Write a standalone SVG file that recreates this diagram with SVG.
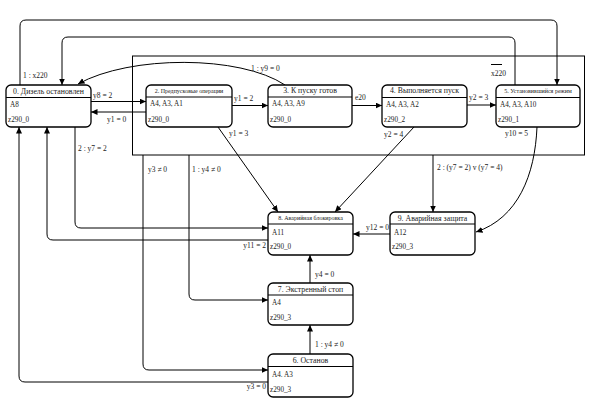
<svg xmlns="http://www.w3.org/2000/svg" width="595" height="403" viewBox="0 0 595 403" font-family="'Liberation Serif', 'Times New Roman', serif">
<defs>
<marker id="ah" markerUnits="userSpaceOnUse" markerWidth="7" markerHeight="7" refX="6.5" refY="3" orient="auto">
<path d="M0,0 L6.5,3 L0,6 z" fill="#000"/>
</marker>
<style>
.box{fill:#fff;stroke:#000;stroke-width:1.3}
.sep{stroke:#000;stroke-width:1.2}
.ln{fill:none;stroke:#000;stroke-width:1}
.ar{fill:none;stroke:#000;stroke-width:1;marker-end:url(#ah)}
text{font-family:'Liberation Serif','Times New Roman',serif;fill:#222}
.t{font-size:7.8px;text-anchor:middle}
.ts{font-size:6px;text-anchor:middle}
.c{font-size:7.2px}
.l{font-size:7.5px}
.le{font-size:7.5px;text-anchor:end}
</style>
</defs>
<rect x="0" y="0" width="595" height="403" fill="#fff"/>
<rect class="ln" x="132.5" y="56" width="452" height="99"/>
<g id="connectors">
<path class="ar" d="M91,101.5 H146"/>
<text class="l" x="93" y="98">y8 = 2</text>
<path class="ar" d="M146,112 H91"/>
<text class="l" x="107" y="122">y1 = 0</text>
<path class="ar" d="M232,105.5 H268"/>
<text class="l" x="234" y="101">y1 = 2</text>
<path class="ar" d="M352,105.5 H382"/>
<text class="l" x="355" y="100">e20</text>
<path class="ar" d="M467,105 H496"/>
<text class="l" x="469" y="100">y2 = 3</text>
<path class="ar" d="M218,127 L278,212"/>
<text class="l" x="229" y="136">y1 = 3</text>
<path class="ar" d="M414,127 L335,212"/>
<text class="l" x="384" y="137">y2 = 4</text>
<path class="ar" d="M537,127 C535,175 518,218 476,232"/>
<text class="l" x="505" y="136">y10 = 5</text>
<path class="ar" d="M433,155 V212"/>
<text class="l" x="437" y="170">2 : (y7 = 2) v (y7 = 4)</text>
<path class="ar" d="M390,234 H353"/>
<text class="le" x="389" y="230">y12 = 0</text>
<path class="ar" d="M268,240 H53 Q47,240 47,234 V127"/>
<text class="le" x="266" y="248">y11 = 2</text>
<path class="ar" d="M75,127 V222 Q75,228 81,228 H268"/>
<text class="l" x="78" y="151">2 : y7 = 2</text>
<path class="ar" d="M143,155 V364 Q143,370 149,370 H268"/>
<text class="l" x="148" y="172">y3 ≠ 0</text>
<path class="ar" d="M189,155 V294 Q189,300 195,300 H268"/>
<text class="l" x="192" y="172">1 : y4 ≠ 0</text>
<path class="ar" d="M310,283 V255"/>
<text class="l" x="315" y="277">y4 = 0</text>
<path class="ar" d="M310,354 V325"/>
<text class="l" x="315" y="347">1 : y4 ≠ 0</text>
<path class="ar" d="M268,382 H25 Q19,382 19,376 V127"/>
<text class="le" x="266" y="389">y3 = 0</text>
<path class="ar" d="M20,85 V26 Q20,20 26,20 H551 Q557,20 557,26 V85"/>
<text class="l" x="23" y="78">1 : x220</text>
<path class="ar" d="M515,85 V43 Q515,37 509,37 H68 Q62,37 62,43 V85"/>
<line class="ln" x1="491" y1="64.5" x2="502" y2="64.5"/>
<text class="l" x="491" y="76">x220</text>
<path class="ar" d="M285,85 C240,55 130,55 78,84"/>
<text class="l" x="251" y="71">1 : y9 = 0</text>
</g>
<g id="n0">
<rect class="box" x="6" y="85" width="85" height="42" rx="5"/>
<line class="sep" x1="6" y1="97.5" x2="91" y2="97.5"/>
<text class="t" x="48.5" y="93.5">0. Дизель остановлен</text>
<text class="c" x="10" y="107">A8</text>
<text class="c" x="8" y="122">z290_0</text>
</g>
<g id="n2">
<rect class="box" x="146" y="85" width="86" height="42" rx="5"/>
<line class="sep" x1="146" y1="97" x2="232" y2="97"/>
<text class="ts" x="189" y="92.5">2. Предпусковые операции</text>
<text class="c" x="150" y="106">A4, A3, A1</text>
<text class="c" x="148" y="122">z290_0</text>
</g>
<g id="n3">
<rect class="box" x="268" y="85" width="84" height="42" rx="5"/>
<line class="sep" x1="268" y1="97" x2="352" y2="97"/>
<text class="t" x="310" y="93">3. К пуску готов</text>
<text class="c" x="272" y="106">A4, A3, A9</text>
<text class="c" x="270" y="122">z290_0</text>
</g>
<g id="n4">
<rect class="box" x="382" y="85" width="85" height="42" rx="5"/>
<line class="sep" x1="382" y1="97.5" x2="467" y2="97.5"/>
<text class="t" x="424.5" y="93">4. Выполняется пуск</text>
<text class="c" x="386" y="107">A4, A3, A2</text>
<text class="c" x="384" y="122">z290_2</text>
</g>
<g id="n5">
<rect class="box" x="496" y="85" width="84" height="42" rx="5"/>
<line class="sep" x1="496" y1="97.5" x2="580" y2="97.5"/>
<text class="ts" x="538" y="93">5. Установившийся режим</text>
<text class="c" x="500" y="107">A4, A3, A10</text>
<text class="c" x="498" y="122">z290_1</text>
</g>
<g id="n8">
<rect class="box" x="268" y="212" width="85" height="43" rx="5"/>
<line class="sep" x1="268" y1="224" x2="353" y2="224"/>
<text class="ts" x="310.5" y="220">8. Аварийная блокировка</text>
<text class="c" x="272" y="235">A11</text>
<text class="c" x="270" y="249">z290_0</text>
</g>
<g id="n9">
<rect class="box" x="390" y="212" width="85" height="43" rx="5"/>
<line class="sep" x1="390" y1="224" x2="475" y2="224"/>
<text class="t" x="432.5" y="220.5">9. Аварийная защита</text>
<text class="c" x="394" y="235">A12</text>
<text class="c" x="392" y="249">z290_3</text>
</g>
<g id="n7">
<rect class="box" x="268" y="283" width="85" height="42" rx="5"/>
<line class="sep" x1="268" y1="295" x2="353" y2="295"/>
<text class="t" x="310.5" y="291.5">7. Экстренный стоп</text>
<text class="c" x="272" y="305">A4</text>
<text class="c" x="270" y="320">z290_3</text>
</g>
<g id="n6">
<rect class="box" x="268" y="354" width="85" height="43" rx="5"/>
<line class="sep" x1="268" y1="366.5" x2="353" y2="366.5"/>
<text class="t" x="310.5" y="362.5">6. Останов</text>
<text class="c" x="272" y="377">A4. A3</text>
<text class="c" x="270" y="392">z290_3</text>
</g>
</svg>
